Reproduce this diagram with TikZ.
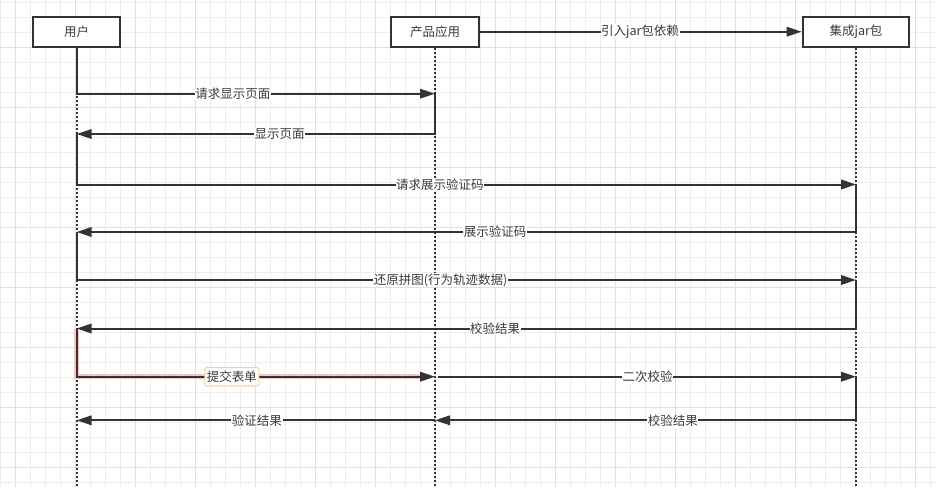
\documentclass[tikz,border=0pt]{standalone}
\usepackage{fontspec}
\setmainfont{Noto Sans CJK SC}
\usetikzlibrary{arrows.meta}
\definecolor{ink}{HTML}{333333}
\definecolor{txt}{HTML}{3A3A3A}
\definecolor{gridminor}{HTML}{EDEDED}
\definecolor{gridmajor}{HTML}{E0E0E0}
\definecolor{glow}{HTML}{F2C6C6}
\definecolor{selbox}{HTML}{F5D597}
\begin{document}
\begin{tikzpicture}[x=1pt,y=-1pt,
  actor/.style={draw=ink,line width=2pt,fill=white,minimum height=30pt,inner sep=0pt,text=txt,font=\fontsize{12.5}{15}\selectfont},
  msg/.style={draw=ink,line width=2pt,-{Triangle[length=15pt,width=9.5pt]}},
  seg/.style={draw=ink,line width=2pt},
  life/.style={draw=ink,line width=1.6pt,dash pattern=on 2pt off 2pt},
  lbl/.style={fill=white,inner sep=0.6pt,text=txt,font=\fontsize{12.5}{15}\selectfont},
  sellbl/.style={lbl,draw=selbox,line width=1.2pt,rounded corners=1.5pt,inner xsep=2pt,inner ysep=1pt,minimum height=18.5pt},
  minorgrid/.style={draw=gridminor,line width=1pt},
  majorgrid/.style={draw=gridmajor,line width=1pt}]
\useasboundingbox (0,0) rectangle (936,487);
\fill[white] (0,0) rectangle (936,487);
% grid
\foreach \xx in {0.7,15.7,...,935.7} \draw[minorgrid] (\xx,0) -- (\xx,487);
\foreach \yy in {2.3,17.3,...,486.3} \draw[minorgrid] (0,\yy) -- (936,\yy);
\foreach \xx in {15.7,75.7,...,935.7} \draw[majorgrid] (\xx,0) -- (\xx,487);
\foreach \yy in {47.3,107.3,...,486.3} \draw[majorgrid] (0,\yy) -- (936,\yy);

% actors
\node[actor,minimum width=87pt] (u) at (76.7,31.7) {用户};
\node[actor,minimum width=88.6pt] (a) at (435,31.7) {产品应用};
\node[actor,minimum width=106.6pt] (j) at (856,31.7) {集成jar包};

% lifeline ends
\coordinate (uend) at (76.7,487);
\coordinate (aend) at (435,487);
\coordinate (jend) at (856,487);
\draw[life] (u.south) -- (uend);
\draw[life] (a.south) -- (aend);
\draw[life] (j.south) -- (jend);

% message points
\coordinate (a94) at (435,93.7);
\coordinate (u134) at (76.7,134);
\coordinate (j184) at (856,184.5);
\coordinate (u232) at (76.7,232);
\coordinate (j280) at (856,280);
\coordinate (u328) at (76.7,328.5);
\coordinate (a376) at (435,376.7);
\coordinate (a376s) at (438.3,376.7);
\coordinate (j376) at (856,376.7);
\coordinate (a420) at (435,420.3);
\coordinate (u420) at (76.7,420.3);

% top dependency
\draw[msg] (a.east) -- (j.west) node[lbl,pos=0.497] {引入jar包依赖};

% messages
\draw[msg] (u.south) |- (a94) node[lbl,pos=0.718] {请求显示页面};
\draw[msg] (a94) |- (u134) node[lbl,pos=0.717] {显示页面};
\draw[msg] (u134) |- (j184) node[lbl,pos=0.733] {请求展示验证码};
\draw[msg] (j184) |- (u232) node[lbl,pos=0.7315] {展示验证码};
\draw[msg] (u232) |- (j280) node[lbl,pos=0.7335] {还原拼图(行为轨迹数据)};
\draw[msg] (j280) |- (u328) node[lbl,pos=0.7315] {校验结果};
% highlighted (selected) message
\draw[glow,line width=4.5pt,shorten >=14pt] (u328) |- (a376);
\draw[msg] (u328) |- (a376) node[sellbl,pos=0.7165] {提交表单};
\draw[msg] (a376s) -- (j376) node[lbl,pos=0.501] {二次校验};
\draw[msg] (j376) |- (a420) node[lbl,pos=0.7175] {校验结果};
\draw[msg] (a420) -- (u420) node[lbl,pos=0.497] {验证结果};
\end{tikzpicture}
\end{document}
